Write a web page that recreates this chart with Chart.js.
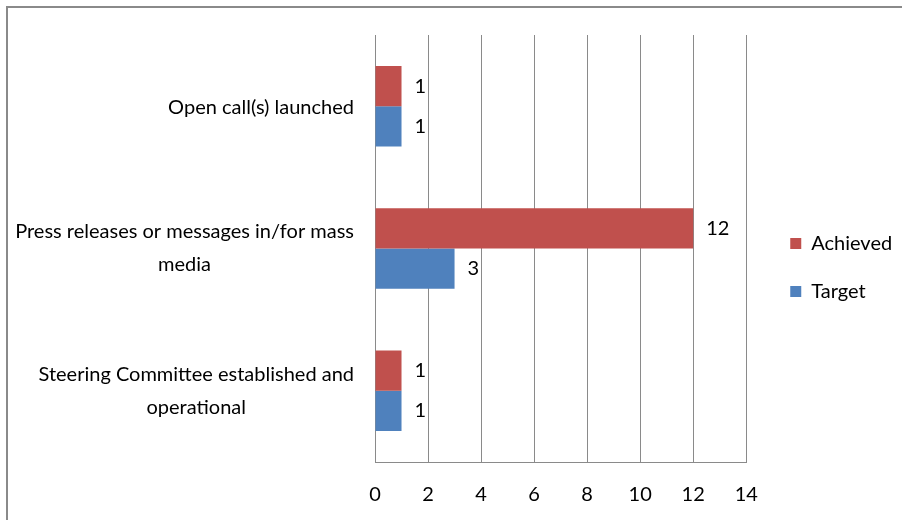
<!DOCTYPE html>
<html><head><meta charset="utf-8">
<script src="https://cdn.jsdelivr.net/npm/chart.js@4.4.0/dist/chart.umd.min.js"></script>
<style>
html,body{margin:0;padding:0;background:#fff;overflow:hidden;}
#wrap{position:relative;width:902px;height:520px;overflow:hidden;}
#frame{position:absolute;left:6px;top:6px;width:1000px;height:1000px;border:2px solid #8a8a8a;box-sizing:border-box;pointer-events:none;}
canvas{position:absolute;left:0;top:0;}
</style></head><body>
<div id="wrap"><canvas id="c" width="902" height="520"></canvas><div id="frame"></div></div>
<script>
const categories = [
  ["Open call(s) launched"],
  ["Press releases or messages in/for mass", "media"],
  ["Steering Committee established and", "operational"]
];
const seriesNames = ["Achieved", "Target"];
const achieved = [1, 12, 1];
const target = [1, 3, 1];
const xMin = 0, xMax = 14, xStep = 2;

const FONT = "Lato";
const FS = 20;
const RED = "#C0504D", BLUE = "#4F81BD", GRID = "#8a8a8a";

const yLabelPlugin = {
  id: "yLabels",
  afterDraw(chart) {
    const ctx = chart.ctx, ys = chart.scales.y;
    const right = chart.chartArea.left - 21;
    const lineH = 33;
    ctx.save();
    ctx.font = FS + "px " + FONT;
    ctx.fillStyle = "#000";
    ctx.textAlign = "center";
    ctx.textBaseline = "middle";
    categories.forEach((lines, i) => {
      const cy = ys.getPixelForValue(i) + (lines.length === 1 ? 1 : 0);
      const w = Math.max(...lines.map(l => ctx.measureText(l).width));
      const cx = right - w / 2;
      lines.forEach((l, k) => ctx.fillText(l, cx, cy + (k - (lines.length - 1) / 2) * lineH));
    });
    ctx.restore();
  }
};

const valueLabelPlugin = {
  id: "valueLabels",
  afterDatasetsDraw(chart) {
    const ctx = chart.ctx;
    ctx.save();
    ctx.font = FS + "px " + FONT;
    ctx.fillStyle = "#000";
    ctx.textAlign = "left";
    ctx.textBaseline = "middle";
    chart.data.datasets.forEach((ds, di) => {
      chart.getDatasetMeta(di).data.forEach((bar, i) => {
        ctx.fillText(String(ds.data[i]), bar.x + 13, bar.y);
      });
    });
    ctx.restore();
  }
};

const legendShiftPlugin = {
  id: "legendShift",
  afterLayout(chart) {
    const lg = chart.legend;
    if (!lg) return;
    lg.left += 16; lg.right += 60; lg.width += 44;
    lg.top -= 3; lg.bottom -= 3;
  }
};

new Chart(document.getElementById("c"), {
  type: "bar",
  data: {
    labels: categories,
    datasets: [
      { label: seriesNames[0], data: achieved, backgroundColor: RED },
      { label: seriesNames[1], data: target, backgroundColor: BLUE }
    ]
  },
  options: {
    indexAxis: "y",
    responsive: false,
    animation: false,
    devicePixelRatio: 1,
    datasets: { bar: { categoryPercentage: 0.565, barPercentage: 1.0 } },
    layout: { padding: { left: 375, top: 35, right: 32, bottom: 14 } },
    scales: {
      x: {
        min: xMin, max: xMax,
        ticks: { stepSize: xStep, color: "#000", font: { family: FONT, size: FS }, padding: 21 },
        grid: { color: GRID, drawTicks: false },
        border: { color: GRID },
        afterFit(scale) { scale.height = 44; }
      },
      y: {
        ticks: { display: false },
        grid: { display: false, drawTicks: false },
        border: { color: GRID }
      }
    },
    plugins: {
      legend: {
        position: "right",
        labels: { boxWidth: 11, boxHeight: 11, color: "#000", font: { family: FONT, size: FS }, padding: 28 }
      },
      tooltip: { enabled: false }
    }
  },
  plugins: [yLabelPlugin, valueLabelPlugin, legendShiftPlugin]
});
</script>
</body></html>
